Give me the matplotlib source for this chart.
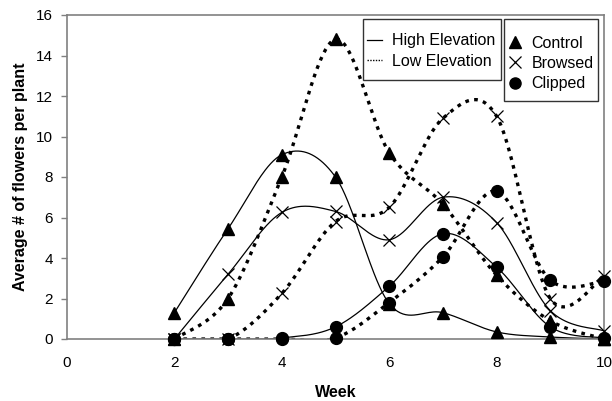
import numpy as np
import matplotlib
matplotlib.use("Agg")
import matplotlib.pyplot as plt
from matplotlib.lines import Line2D
from matplotlib.patches import Rectangle

plt.rcParams['font.family'] = ['Liberation Sans', 'DejaVu Sans']

weeks = [2, 3, 4, 5, 6, 7, 8, 9, 10]
high_control = [1.3, 5.45, 9.1, 8.0, 1.75, 1.3, 0.35, 0.1, 0.0]
high_browsed = [0.0, 3.2, 6.25, 6.3, 4.9, 7.0, 5.75, 1.4, 0.4]
high_clipped = [0.0, 0.0, 0.05, 0.6, 2.6, 5.2, 3.55, 0.6, 0.05]
low_control = [0.0, 2.0, 8.0, 14.8, 9.2, 6.65, 3.15, 0.9, 0.0]
low_browsed = [0.0, 0.0, 2.25, 5.8, 6.5, 10.9, 11.0, 2.0, 3.1]
low_clipped = [0.0, 0.0, 0.0, 0.05, 1.8, 4.05, 7.3, 2.9, 2.85]

xticks = [0, 2, 4, 6, 8, 10]
yticks = [0, 2, 4, 6, 8, 10, 12, 14, 16]

W, H = 612, 401


def smooth(xs, ys, n=40, k=6.0):
    p = np.column_stack([xs, ys]).astype(float)
    ext = np.vstack([p[0], p, p[-1]])
    out = []
    t = np.linspace(0, 1, n)[:, None]
    for i in range(len(p) - 1):
        p0, p1, p2, p3 = ext[i], ext[i + 1], ext[i + 2], ext[i + 3]
        b1 = p1 + (p2 - p0) / k
        b2 = p2 - (p3 - p1) / k
        seg = ((1 - t) ** 3) * p1 + 3 * ((1 - t) ** 2) * t * b1 + 3 * (1 - t) * t ** 2 * b2 + t ** 3 * p2
        out.append(seg if i == 0 else seg[1:])
    s = np.vstack(out)
    return s[:, 0], s[:, 1]


def fx(px):
    return px / W


def fy(py):
    return 1 - py / H


fig = plt.figure(figsize=(6.12, 4.01), dpi=100)
ax = fig.add_axes([fx(67), fy(339), (604 - 67) / W, (339 - 15) / H])

grey = '#808080'
dot_style = (0, (1.1, 1.6))

series = [
    (high_control, '^', 'solid'),
    (high_browsed, 'x', 'solid'),
    (high_clipped, 'o', 'solid'),
    (low_control, '^', 'dotted'),
    (low_browsed, 'x', 'dotted'),
    (low_clipped, 'o', 'dotted'),
]

for ys, m, kind in series:
    sx, sy = smooth(weeks, ys)
    if kind == 'solid':
        ax.plot(sx, sy, color='black', lw=0.9, solid_capstyle='butt', zorder=2)
    else:
        ax.plot(sx, sy, color='black', lw=2.4, linestyle=dot_style, dash_capstyle='butt', zorder=2)

for ys, m, kind in series:
    if m == 'x':
        ax.plot(weeks, ys, linestyle='none', marker='x', ms=9, mew=0.9, color='black', zorder=3, clip_on=False)
    elif m == '^':
        ax.plot(weeks, ys, linestyle='none', marker='^', ms=8.5, color='black', zorder=3, clip_on=False)
    else:
        ax.plot(weeks, ys, linestyle='none', marker='o', ms=8.5, color='black', zorder=3, clip_on=False)

ax.set_xlim(0, 10)
ax.set_ylim(0, 16)
ax.set_xticks(xticks)
ax.set_yticks(yticks)
ax.tick_params(axis='x', length=0, pad=12, labelsize=11)
ax.tick_params(axis='y', length=4, width=1, color=grey, direction='out', pad=6, labelsize=11)
for sp in ax.spines.values():
    sp.set_color(grey)
    sp.set_linewidth(1.2)

ax.set_xlabel('Week', fontsize=11.5, fontweight='bold', labelpad=11)
ax.set_ylabel('Average # of flowers per plant', fontsize=11.5, fontweight='bold', labelpad=6)

# legend boxes
for (x0, y0, x1, y1) in [(363, 19, 501, 80), (504, 19, 598, 101)]:
    fig.add_artist(Rectangle((fx(x0), fy(y1)), (x1 - x0) / W, (y1 - y0) / H,
                             transform=fig.transFigure, facecolor='white',
                             edgecolor='#333333', lw=1.0, zorder=5))

h1 = [Line2D([], [], color='black', lw=0.9),
      Line2D([], [], color='black', lw=1.0, linestyle=(0, (1, 1)))]
leg1 = fig.legend(h1, ['High Elevation', 'Low Elevation'], loc='center left',
                  bbox_to_anchor=(fx(367), fy(51)), bbox_transform=fig.transFigure,
                  fontsize=11.5, frameon=False, borderaxespad=0, borderpad=0,
                  handlelength=0.95, handletextpad=0.62, labelspacing=0.32)
leg1.set_zorder(6)

h2 = [Line2D([], [], linestyle='none', marker='^', ms=8, color='black'),
      Line2D([], [], linestyle='none', marker='x', ms=9, mew=0.9, color='black'),
      Line2D([], [], linestyle='none', marker='o', ms=8, color='black')]
leg2 = fig.legend(h2, ['Control', 'Browsed', 'Clipped'], loc='center left',
                  bbox_to_anchor=(fx(509), fy(63.5)), bbox_transform=fig.transFigure,
                  fontsize=11.5, frameon=False, borderaxespad=0, borderpad=0,
                  handlelength=0.8, handletextpad=0.6, labelspacing=0.32)
leg2.set_zorder(6)

fig.savefig('out.png', dpi=100)
